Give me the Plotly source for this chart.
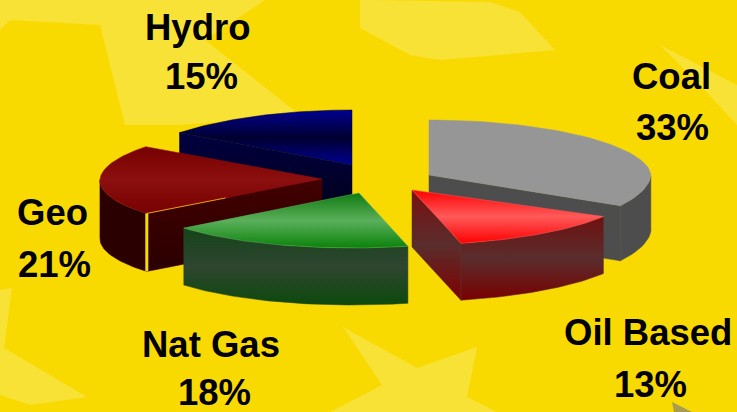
import math
import plotly.graph_objects as go

# ---- data ----
categories = ["Coal", "Oil Based", "Nat Gas", "Geo", "Hydro"]
shares = [33, 13, 18, 21, 15]

# ---- drawing set-up (exploded "3D" pie on a pixel-sized axis) ----
W, H = 737, 412
BG = "#f9da00"
PATCH = "#f9e236"
apex = {"Coal": (429, 175), "Oil Based": (412, 190), "Nat Gas": (359, 193), "Geo": (322, 179), "Hydro": (352, 165)}
depth = {"Coal": 55, "Oil Based": 57, "Nat Gas": 57, "Geo": 58, "Hydro": 55}
ry_front = {"Coal": 64, "Oil Based": 55, "Nat Gas": 55, "Geo": 54, "Hydro": 55}
back_narrow = {"Coal": 7, "Oil Based": 7, "Nat Gas": 7, "Geo": 7, "Hydro": 15}
cut_edge = {"Coal": "end", "Oil Based": "end", "Nat Gas": None, "Geo": "start", "Hydro": "start"}
top_colors = {
    "Coal": ["#969696", "#969696"],
    "Oil Based": ["#ff0000", "#ff5a5a", "#ff0000"],
    "Nat Gas": ["#0a820a", "#5bb05b", "#0e7a10"],
    "Geo": ["#780000", "#8c0f0f", "#780000"],
    "Hydro": ["#000090", "#000030", "#000090"],
}
side_colors = {
    "Coal": ["#4d4d4d", "#4d4d4d"],
    "Oil Based": ["#7a0000", "#5a2d2d", "#701010"],
    "Nat Gas": ["#0c4a0c", "#2f4530", "#14441a"],
    "Geo": ["#2a0000", "#2a0000"],
    "Hydro": ["#000018", "#000040"],
}
cut_colors = {
    "Coal": ["#4d4d4d", "#4d4d4d"],
    "Oil Based": ["#800000", "#5a2d2d", "#7a1010"],
    "Geo": ["#2a0000", "#420000"],
    "Hydro": ["#000018", "#000040"],
}
# label x, label y, percent x, percent y
label_pos = {
    "Coal": (671, 76, 672, 127), "Oil Based": (648, 332, 650, 384), "Nat Gas": (211, 344, 214, 392.5),
    "Geo": (52, 212, 54, 264), "Hydro": (197, 27, 201, 76),
}
patches = [
    "M 0 0 L 265 0 L 205 40 L 300 115 L 180 125 L 125 125 L 100 25 L 10 20 L 0 30 Z",
    "M 372 0 L 490 2 L 520 12 L 555 50 L 440 60 L 410 55 L 360 28 L 360 0 Z",
    "M 660 45 L 737 85 L 737 125 L 700 85 Z",
    "M 0 290 L 12 288 L 4 348 L 87 397 L 30 405 L 0 395 Z",
    "M 343 327 L 417 368 L 477 347 L 467 397 L 497 412 L 330 412 L 382 385 Z",
]


def rim(name, t):
    """Point on the elliptical rim of a slice, t in degrees clockwise from the back."""
    cx, cy = apex[name]
    s, c = math.sin(math.radians(t)), math.cos(math.radians(t))
    rx = 222 - back_narrow[name] * max(c, 0)
    if c >= 0:
        return cx + rx * s, cy - 55 * c
    return cx + rx * s + 6.5 * c, cy - ry_front[name] * c


def scale(colors):
    n = len(colors) - 1
    return [[i / n, col] for i, col in enumerate(colors)]


def face(fig, name, pts, colors):
    xs = [p[0] for p in pts] + [pts[0][0]]
    ys = [p[1] for p in pts] + [pts[0][1]]
    fig.add_trace(go.Scatter(
        x=xs, y=ys, mode="lines", fill="toself", name=name, hoverinfo="name",
        line=dict(width=0.5, color=colors[len(colors) // 2]),
        fillgradient=dict(type="vertical", colorscale=scale(colors), start=max(ys), stop=min(ys)),
    ))


# angle span of every slice comes from its share
spans = {}
acc = 0
for cat, val in zip(categories, shares):
    spans[cat] = (acc * 3.6, (acc + val) * 3.6)
    acc += val

fig = go.Figure()
for name in ["Hydro", "Geo", "Nat Gas", "Coal", "Oil Based"]:
    t0, t1 = spans[name]
    d = depth[name]
    arc = [rim(name, t0 + (t1 - t0) * i / 60) for i in range(61)]
    # outer wall: only the part that looks towards the viewer
    vis = [rim(name, t0 + (t1 - t0) * i / 60) for i in range(61)
           if 90 <= t0 + (t1 - t0) * i / 60 <= 270]
    if vis:
        face(fig, name, vis + [(x, y + d) for x, y in reversed(vis)], side_colors[name])
    # radial cut wall
    if cut_edge[name]:
        p = rim(name, t0 if cut_edge[name] == "start" else t1)
        a = apex[name]
        face(fig, name, [a, p, (p[0], p[1] + d), (a[0], a[1] + d)], cut_colors[name])
    # top face
    face(fig, name, [apex[name]] + arc, top_colors[name])

annotations = []
for cat, val in zip(categories, shares):
    x1, y1, x2, y2 = label_pos[cat]
    for txt, x, y in ((cat, x1, y1), (f"{val}%", x2, y2)):
        annotations.append(dict(
            x=x, y=y, text=f"<b>{txt}</b>", showarrow=False, xanchor="center", yanchor="middle",
            font=dict(family="Liberation Sans", size=36.5, color="#000000"),
        ))

# the thin yellow seams on the Geo slice
gp = rim("Geo", spans["Geo"][0])
ga = apex["Geo"]
seam = (gp[0] + 0.45 * (ga[0] - gp[0]), gp[1] + 0.45 * (ga[1] - gp[1]))
fig.add_trace(go.Scatter(x=[gp[0], seam[0]], y=[gp[1], seam[1]], mode="lines",
                         line=dict(color="#e0a000", width=1), hoverinfo="skip"))
fig.add_trace(go.Scatter(x=[gp[0], gp[0]], y=[gp[1], gp[1] + depth["Geo"]], mode="lines",
                         line=dict(color=BG, width=3), hoverinfo="skip"))

shapes = [dict(type="path", path=p, fillcolor=PATCH, line=dict(width=0), layer="below") for p in patches]
shapes.append(dict(type="path", path="M 672 402 L 692 412 L 674 412 Z", fillcolor="#a89c50",
                   line=dict(width=0), layer="below"))

fig.update_layout(
    width=W, height=H, margin=dict(l=0, r=0, t=0, b=0), showlegend=False,
    paper_bgcolor=BG, plot_bgcolor=BG, shapes=shapes, annotations=annotations,
    xaxis=dict(range=[0, W], visible=False, fixedrange=True),
    yaxis=dict(range=[H, 0], visible=False, fixedrange=True),
)
fig.write_html("out.html", config={"displayModeBar": False},
               post_script="document.body.style.margin='0';document.documentElement.style.overflow='hidden';")
